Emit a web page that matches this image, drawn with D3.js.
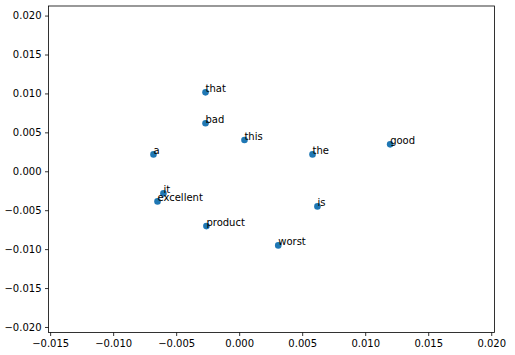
<!DOCTYPE html>
<html lang="en">
<head>
    <meta charset="UTF-8">
    <title> Word Scatter </title>
    <script type="text/javascript" src="https://cdn.jsdelivr.net/npm/d3@7"></script>
    <style type="text/css">
        body { margin: 0; background: #fff; }
        text { font-family: "DejaVu Sans", sans-serif; }
    </style>
</head>
<body>
    <script type="text/javascript">
        //Width and height
        var w = 515;
        var h = 355;
        var margin = { left: 48.5, right: 20.5, top: 6, bottom: 22.5 };

        //Data
        var words = ["that", "bad", "this", "a", "the", "good", "it", "excellent", "product", "is", "worst"];
        var xValues = [-0.00267, -0.00267, 0.00042, -0.0068, 0.00582, 0.01198, -0.00601, -0.00648, -0.0026, 0.00621, 0.0031];
        var yValues = [0.01014, 0.00616, 0.00401, 0.00217, 0.00217, 0.00346, -0.00284, -0.00387, -0.00704, -0.00451, -0.00952];
        var xTicks = [-0.015, -0.010, -0.005, 0.000, 0.005, 0.010, 0.015, 0.020];
        var yTicks = [-0.020, -0.015, -0.010, -0.005, 0.000, 0.005, 0.010, 0.015, 0.020];
        var xDomain = [-0.01513, 0.02026];
        var yDomain = [-0.02071, 0.02123];

        var dataset = words.map(function(word, i) {
            return { word: word, x: xValues[i], y: yValues[i] };
        });

        //Create scale functions
        var xScale = d3.scaleLinear()
            .domain(xDomain)
            .range([margin.left, w - margin.right]);

        var yScale = d3.scaleLinear()
            .domain(yDomain)
            .range([h - margin.bottom, margin.top]);

        var fmt = function(d) { return d3.format(".3f")(d).replace("-", "\u2212"); };

        //Create SVG element
        var svg = d3.select("body")
            .append("svg")
            .attr("width", w)
            .attr("height", h);

        //Axes
        var xAxis = svg.append("g")
            .attr("transform", "translate(0," + (h - margin.bottom) + ")")
            .call(d3.axisBottom(xScale).tickValues(xTicks).tickFormat(fmt).tickSize(3.5).tickPadding(3.5));

        var yAxis = svg.append("g")
            .attr("transform", "translate(" + margin.left + ",0)")
            .call(d3.axisLeft(yScale).tickValues(yTicks).tickFormat(fmt).tickSize(3.5).tickPadding(3.5));

        svg.selectAll(".domain").remove();
        svg.selectAll(".tick line").attr("stroke", "#000").attr("stroke-width", 0.8);
        svg.selectAll(".tick text")
            .attr("font-family", "DejaVu Sans")
            .attr("font-size", "10px")
            .attr("fill", "#000");

        //Frame
        svg.append("rect")
            .attr("x", margin.left)
            .attr("y", margin.top)
            .attr("width", w - margin.left - margin.right)
            .attr("height", h - margin.top - margin.bottom)
            .attr("fill", "none")
            .attr("stroke", "#000")
            .attr("stroke-width", 0.8);

        //Create circles
        svg.selectAll("circle")
            .data(dataset)
            .enter()
            .append("circle")
            .attr("cx", function(d) { return xScale(d.x); })
            .attr("cy", function(d) { return yScale(d.y); })
            .attr("r", 3.3)
            .attr("fill", "#1f77b4");

        //Create labels
        svg.selectAll("text.label")
            .data(dataset)
            .enter()
            .append("text")
            .attr("class", "label")
            .text(function(d) { return d.word; })
            .attr("x", function(d) { return xScale(d.x); })
            .attr("y", function(d) { return yScale(d.y); })
            .attr("font-family", "DejaVu Sans")
            .attr("font-size", "10px")
            .attr("fill", "#000");
    </script>
</body>
</html>
